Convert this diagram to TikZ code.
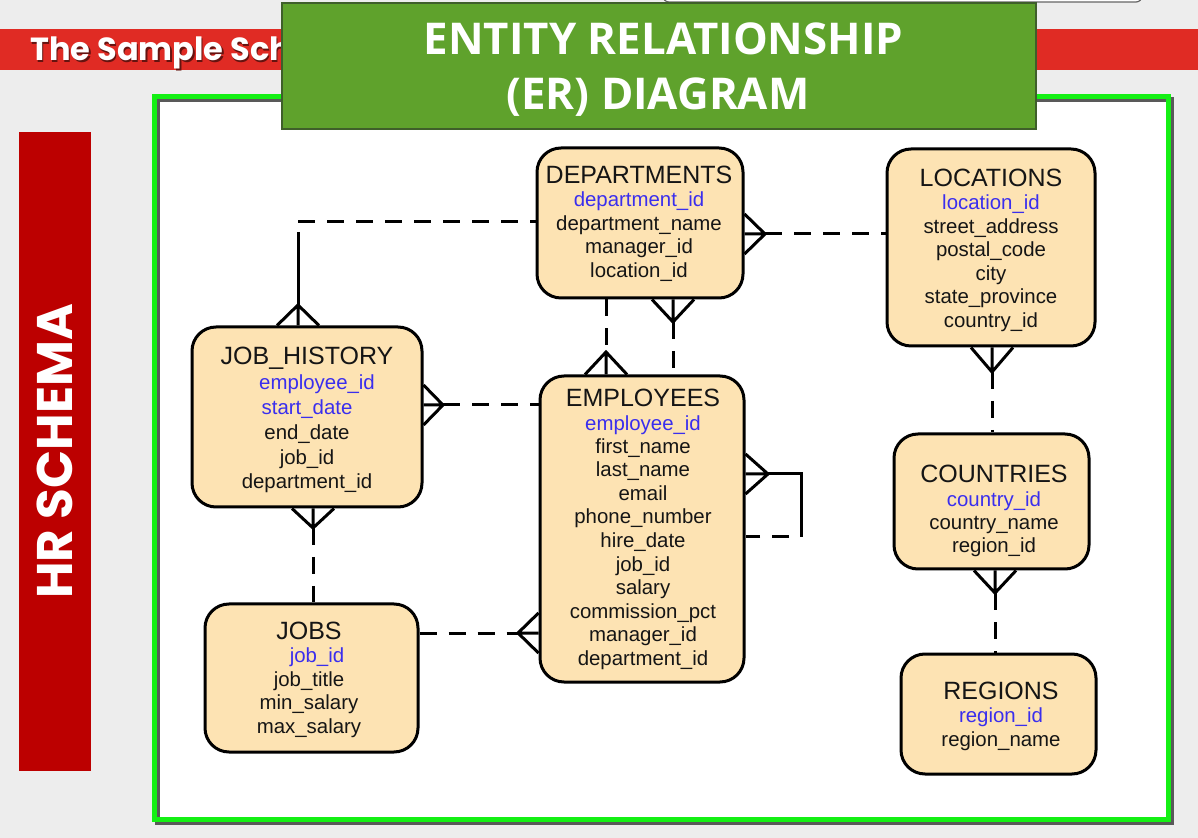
\documentclass[tikz,border=0pt]{standalone}
\usepackage{fontspec}
\setmainfont{Liberation Sans}
\newfontfamily\headfont{Open Sans}
\newfontfamily\slidefont{Poppins}
\usetikzlibrary{calc}

\definecolor{pagegray}{HTML}{EDEDED}
\definecolor{bandred}{HTML}{E02B24}
\definecolor{barred}{HTML}{BC0000}
\definecolor{titlegreen}{HTML}{5FA22C}
\definecolor{titleedge}{HTML}{3F5F2A}
\definecolor{framegreen}{HTML}{14F014}
\definecolor{peach}{HTML}{FDE3B3}
\definecolor{keyblue}{HTML}{3A2EEE}
\definecolor{ink}{HTML}{151515}

% table title and primary-key field
\newcommand\ttl[1]{{\fontsize{12.5}{11.75}\selectfont #1}}
\newcommand\pk[1]{\textcolor{keyblue}{#1}}

\tikzset{
  entity/.style={draw=black, line width=1.5pt, fill=peach, rounded corners=12pt, inner sep=0pt},
  % anchored at the baseline of the last line of the block
  fields/.style={align=center, inner sep=0pt, anchor=base, text=ink,
                 font=\fontsize{10.2}{11.75}\selectfont},
  rel/.style={line width=1.5pt, line cap=butt, line join=miter},
  opt/.style={rel, dash pattern=on 8.5pt off 6pt},
}

% crow's foot: #1 = point on the box edge, #2 = apex of the foot
\newcommand\crowV[2]{\draw[rel] ($(#1)+(-21,0)$) -- (#2) -- ($(#1)+(21,0)$) (#2) -- (#1);}
\newcommand\crowH[2]{\draw[rel] ($(#1)+(0,-20)$) -- (#2) -- ($(#1)+(0,20)$) (#2) -- (#1);}

\begin{document}
\begin{tikzpicture}[x=0.5pt,y=-0.5pt]
\useasboundingbox (0,0) rectangle (1198,838);
\fill[pagegray] (0,0) rectangle (1198,838);

% tab peeking in at the top
\draw[fill=white, draw=black!60, line width=0.6pt, rounded corners=3pt] (663,-12) rectangle (1142,2);

% red heading band
\fill[bandred] (0,29) rectangle (1198,70);
\node[anchor=base west, inner sep=0pt, text=black!55!bandred,
      font=\slidefont\bfseries\fontsize{16}{16}\selectfont] (subshadow) at (31.5,62.5) {The Sample Sch};
\node[anchor=base west, inner sep=0pt, text=white,
      font=\slidefont\bfseries\fontsize{16}{16}\selectfont] (subtitle) at (30,61) {The Sample Sch};

% side bar
\node[fill=barred, minimum width=319.5pt, minimum height=36pt, inner sep=0pt, rotate=90,
      text=white, font=\slidefont\bfseries\fontsize{25}{25}\selectfont] (sidebar) at (55,451.5) {HR SCHEMA};

% diagram frame with its shadow
\fill[white] (157,99) rectangle (1166,817);
\draw[black!65, line width=2.5pt] (157.5,99.5) rectangle (1171.5,822.5);
\draw[framegreen, line width=2.5pt] (154.5,96.5) rectangle (1168.5,819.5);

% tables
\node[entity, minimum width=103pt, minimum height=75pt]   (dep)  at (640,223) {};
\node[entity, minimum width=104pt, minimum height=98.5pt] (loc)  at (991,247.5) {};
\node[entity, minimum width=115pt, minimum height=90pt]   (jh)   at (307,417) {};
\node[entity, minimum width=102pt, minimum height=153pt]  (emp)  at (642,529) {};
\node[entity, minimum width=97.5pt, minimum height=67.5pt] (cty) at (991.5,501.5) {};
\node[entity, minimum width=106.5pt, minimum height=74pt] (jobs) at (311.5,678) {};
\node[entity, minimum width=97.5pt, minimum height=60pt]  (reg)  at (998.5,714) {};

\node[fields] (depT) at (639,277.5) {\ttl{DEPARTMENTS}\\ \pk{department\_id}\\ department\_name\\ manager\_id\\ location\_id};
\node[fields] (locT) at (991,327.5) {\ttl{LOCATIONS}\\ \pk{location\_id}\\ street\_address\\ postal\_code\\ city\\ state\_province\\ country\_id};
\node[fields, font=\fontsize{10.2}{12.4}\selectfont] (jhT) at (307,489)
  {{\fontsize{12.5}{12.4}\selectfont JOB\_HISTORY}\\ \hspace*{10pt}\pk{employee\_id}\\ \pk{start\_date}\\ end\_date\\ job\_id\\ department\_id};
\node[fields] (empT) at (643,665) {\ttl{EMPLOYEES}\\ \pk{employee\_id}\\ first\_name\\ last\_name\\ email\\ phone\_number\\ hire\_date\\ job\_id\\ salary\\ commission\_pct\\ manager\_id\\ department\_id};
\node[fields] (ctyT) at (994,553) {\ttl{COUNTRIES}\\ \pk{country\_id}\\ country\_name\\ region\_id};
\node[fields] (jobsT) at (309,733) {\ttl{JOBS}\\ \hspace*{8pt}\pk{job\_id}\\ job\_title\\ min\_salary\\ max\_salary};
\node[fields] (regT) at (1001,746) {\ttl{REGIONS}\\ \pk{region\_id}\\ region\_name};

% DEPARTMENTS -- JOB_HISTORY
\coordinate (c1) at (298,222);
\coordinate (c1v) at (298,232);
\coordinate (a1) at (298,305);
\coordinate (e1) at (298,0 |- jh.north);
\draw[opt] (c1) -- (dep.west |- c1);
\draw[rel] (c1v) -- (a1);
\crowV{e1}{a1}

% JOB_HISTORY -- EMPLOYEES
\coordinate (e2) at (jh.east |- 0,405);
\coordinate (a2) at (443,405);
\crowH{e2}{a2}
\draw[opt] (a2) -- (emp.west |- a2);

% DEPARTMENTS -- LOCATIONS
\coordinate (e3) at (dep.east |- 0,234);
\coordinate (a3) at (765,234);
\crowH{e3}{a3}
\draw[opt] (a3) -- (loc.west |- a3);

% DEPARTMENTS -- EMPLOYEES (department_id)
\coordinate (e4) at (606,0 |- emp.north);
\coordinate (a4) at (606,352);
\draw[opt] (a4 |- dep.south) -- (a4);
\crowV{e4}{a4}

% DEPARTMENTS -- EMPLOYEES (manager_id)
\coordinate (e5) at (673,0 |- dep.south);
\coordinate (a5) at (673,322);
\crowV{e5}{a5}
\draw[opt] (a5) -- (a5 |- emp.north);

% EMPLOYEES -- EMPLOYEES (manager_id)
\coordinate (e6) at (emp.east |- 0,474);
\coordinate (a6) at (768,474);
\coordinate (k1) at (801,474);
\coordinate (k2) at (801,537);
\crowH{e6}{a6}
\draw[rel] (a6) -- (k1) -- (k2);
\draw[opt, dash phase=8.5pt] (k2) -- (emp.east |- k2);

% JOBS -- EMPLOYEES
\coordinate (e7) at (emp.west |- 0,633);
\coordinate (a7) at (518,633);
\crowH{e7}{a7}
\draw[opt] (jobs.east |- a7) -- (a7);

% JOB_HISTORY -- JOBS
\coordinate (e8) at (313,0 |- jh.south);
\coordinate (a8) at (313,528);
\crowV{e8}{a8}
\draw[opt] (a8) -- (a8 |- jobs.north);

% LOCATIONS -- COUNTRIES
\coordinate (e9) at (992,0 |- loc.south);
\coordinate (a9) at (992,372);
\crowV{e9}{a9}
\draw[opt] (a9) -- (a9 |- cty.north);

% COUNTRIES -- REGIONS
\coordinate (e10) at (995,0 |- cty.south);
\coordinate (a10) at (995,593);
\crowV{e10}{a10}
\draw[opt] (a10) -- (a10 |- reg.north);

% title banner
\node[draw=titleedge, fill=titlegreen, line width=0.8pt, minimum width=377pt, minimum height=63pt,
      inner sep=0pt] (banner) at (659,66) {};
\node[anchor=base, inner sep=0pt, align=center, text=white,
      font=\headfont\bfseries\fontsize{21.9}{27.5}\selectfont] (bannertext) at (663.5,110)
      {ENTITY RELATIONSHIP\\(ER) DIAGRAM\hspace*{5.5pt}};
\end{tikzpicture}
\end{document}
